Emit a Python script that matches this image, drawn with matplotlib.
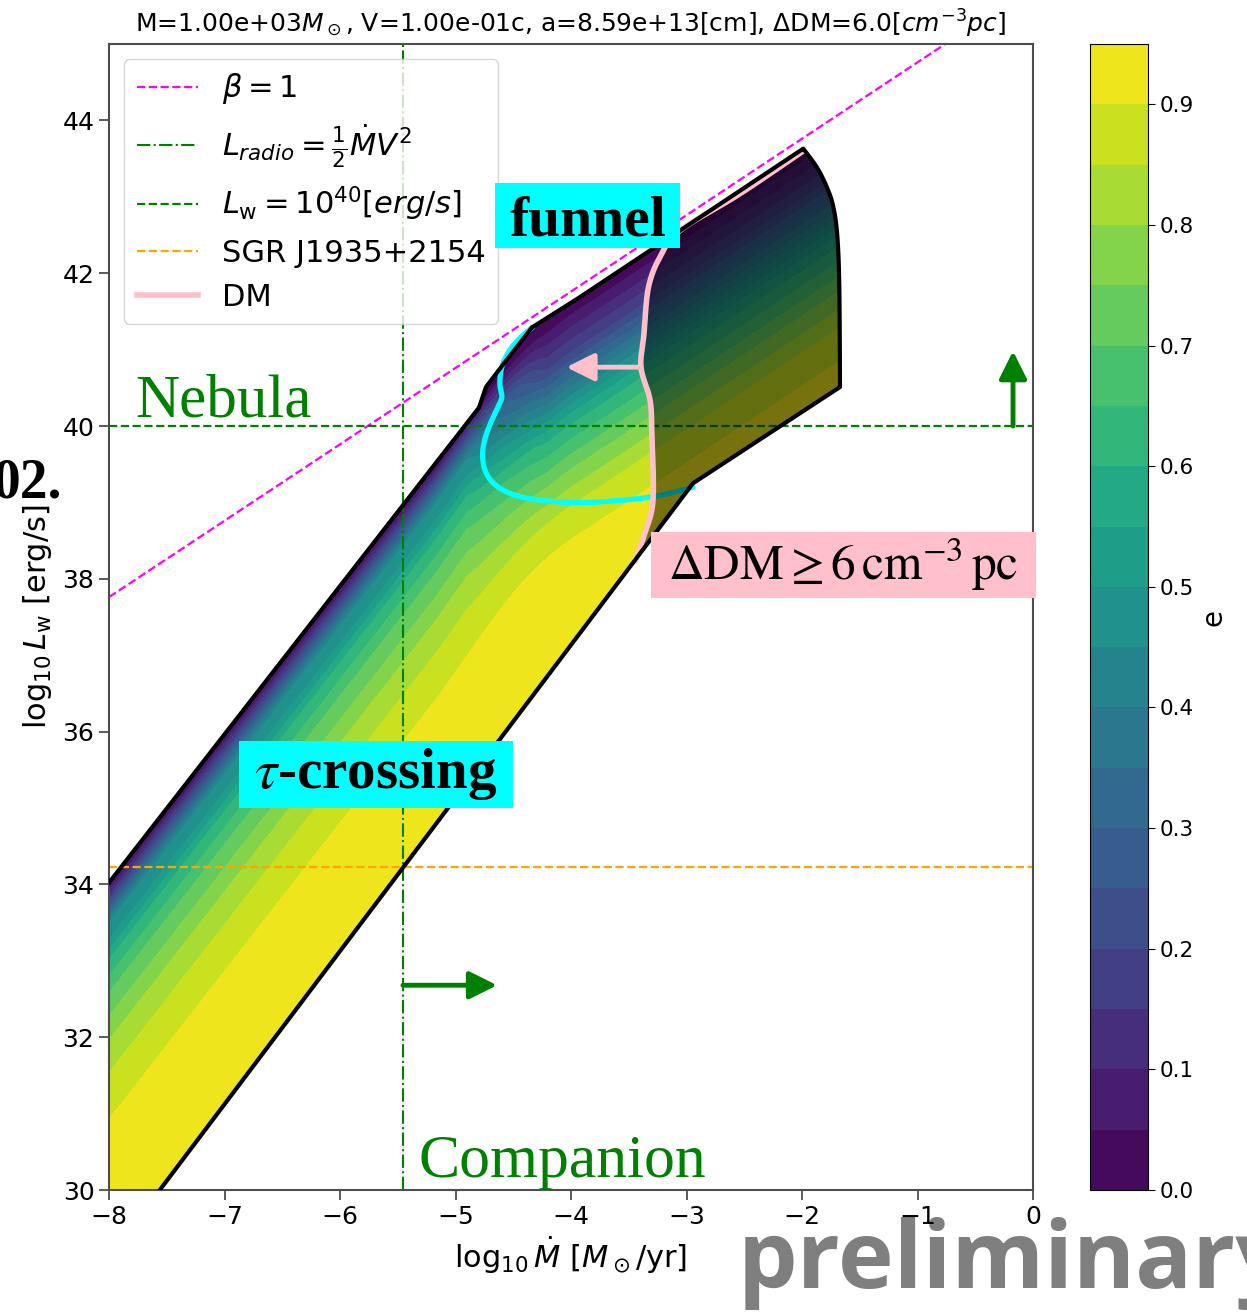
#Librerias
import numpy as np
import matplotlib
matplotlib.use('Agg')
import matplotlib.pyplot as plt
from matplotlib.patches import Polygon, Rectangle

##Bordes de la region (x = log10 Mdot, y = log10 Lw)
top_x = [-8.3, -4.797, -4.736, -4.56, -4.338, -3.94, -1.989]
top_y = [33.44, 40.24, 40.51, 40.86, 41.29, 41.67, 43.63]
right_x = [-1.989, -1.873, -1.786, -1.729, -1.694, -1.677, -1.671]
right_y = [43.63, 43.39, 43.13, 42.87, 42.48, 41.82, 40.51]
low_x = [-1.671, -2.944, -7.66]
low_y = [40.51, 39.25, 29.8]

##e segun la profundidad bajo el borde superior (parte baja y parte alta)
depth_low = [0.0, 0.52, 0.75, 1.01, 1.44, 2.06, 2.49, 3.10, 3.89]
e_low = [0.0, 0.45, 0.50, 0.60, 0.70, 0.80, 0.85, 0.90, 0.949]
depth_up = [0.0, 0.65, 1.10, 1.52, 2.18, 2.66, 3.10, 3.60]
e_up = [0.0, 0.20, 0.40, 0.58, 0.75, 0.85, 0.90, 0.949]

##Curva DM (de arriba hacia abajo)
dm_x = [-1.989, -2.537, -3.056, -3.23, -3.33, -3.368, -3.394, -3.316, -3.30, -3.29, -3.36, -3.446]
dm_y = [43.60, 43.04, 42.56, 42.21, 41.81, 41.21, 40.77, 40.34, 39.90, 39.03, 38.60, 38.24]

##Curva funnel
fun_x = [-4.333, -4.433, -4.532, -4.599, -4.616, -4.599, -4.632, -4.698, -4.748, -4.765,
         -4.732, -4.632, -4.433, -4.104, -3.771, -3.307, -2.944]
fun_y = [41.295, 41.164, 40.99, 40.772, 40.555, 40.38, 40.249, 40.031, 39.813, 39.594,
         39.377, 39.202, 39.071, 39.006, 39.006, 39.071, 39.198]

##Lineas de referencia
beta_x = [-8.0, 0.0]
beta_y = [37.76, 45.76]
mdot_companion = -5.455
l_nebula = 40.0
l_sgr = 34.23

xticks = np.arange(-8, 1, 1)
yticks = np.arange(30, 45, 2)
cticks = np.arange(0, 0.91, 0.1)
levels = np.linspace(0, 0.95, 20)


def suave(xs, ys, n=12):
    #Catmull-Rom para suavizar las curvas
    p = np.column_stack([xs, ys])
    p = np.vstack([p[0], p, p[-1]])
    t = np.linspace(0, 1, n, endpoint=False)[:, None]
    out = []
    for i in range(1, len(p) - 2):
        p0, p1, p2, p3 = p[i-1], p[i], p[i+1], p[i+2]
        out.append(0.5*(2*p1 + (-p0 + p2)*t + (2*p0 - 5*p1 + 4*p2 - p3)*t**2
                        + (-p0 + 3*p1 - 3*p2 + p3)*t**3))
    out.append(p[-2][None])
    out = np.vstack(out)
    return list(out[:, 0]), list(out[:, 1])


fig = plt.figure(figsize=(12.47, 13.13), dpi=100)
ax = fig.add_axes([109/1247, 123/1313, 924/1247, 1146/1313])
cax = fig.add_axes([1090/1247, 123/1313, 58/1247, 1146/1313])

#mapa de e
xg = np.linspace(-8, 0, 800)
yg = np.linspace(30, 45, 1000)
yr = np.interp(xg, top_x, top_y) + np.clip(xg - top_x[-1], 0, None)
k = 40
yr = np.convolve(np.pad(yr, k, mode='reflect', reflect_type='odd'),
                 np.ones(2*k + 1)/(2*k + 1), mode='same')[k:-k]
X, Y = np.meshgrid(xg, yg)
D = yr[None, :] - Y
w = np.clip((X + 4.9)/0.7, 0, 1)
E = (1 - w)*np.interp(D, depth_low, e_low) + w*np.interp(D, depth_up, e_up)
cs = ax.contourf(X, Y, E, levels=levels, cmap='viridis', zorder=1)

rx, ry = suave(right_x, right_y, 8)
edge_x = top_x + rx[1:] + low_x[1:]
edge_y = top_y + ry[1:] + low_y[1:]
region = Polygon(np.column_stack([edge_x + [-8.3], edge_y + [29.8]]), closed=True,
                 transform=ax.transData, fc='none', ec='none')
cs.set_clip_path(region)

#lineas
l1, = ax.plot(beta_x, beta_y, ls='--', color='magenta', lw=1.6, zorder=2)
l2 = ax.axvline(mdot_companion, color='green', ls='-.', lw=1.5, zorder=2)
l3 = ax.axhline(l_nebula, color='green', ls='--', lw=1.6, zorder=2)
l4 = ax.axhline(l_sgr, color='orange', ls='--', lw=1.6, zorder=2)
fx, fy = suave(fun_x, fun_y)
ax.plot(fx, fy, color='cyan', lw=3.8, zorder=3, solid_capstyle='round')

#zona oscurecida a la derecha de DM
mx, my = suave(dm_x, dm_y)
dark_x = mx + [-2.944] + rx[::-1]
dark_y = my + [39.25] + ry[::-1]
dark = Polygon(np.column_stack([dark_x, dark_y]), closed=True, fc='k', ec='none',
               alpha=0.5, zorder=4)
ax.add_patch(dark)
dark.set_clip_path(region)

l5, = ax.plot(mx, my, color='pink', lw=4, zorder=5)
ax.plot(edge_x, edge_y, color='k', lw=3, zorder=6, solid_joinstyle='round')

#flechas
arr = dict(arrowstyle='-|>', lw=3.5, mutation_scale=42, shrinkA=0, shrinkB=0)
ax.annotate('', xy=(-0.173, 40.98), xytext=(-0.173, l_nebula),
            arrowprops=dict(color='green', **arr), zorder=7)
ax.annotate('', xy=(-4.64, 32.68), xytext=(mdot_companion, 32.68),
            arrowprops=dict(color='green', **arr), zorder=7)
ax.annotate('', xy=(-4.04, 40.77), xytext=(-3.394, 40.77),
            arrowprops=dict(color='pink', **arr), zorder=7)

#etiquetas con caja
serif = 'Liberation Serif'
for (x0, x1, y0, y1, c) in [(-4.658, -3.056, 42.325, 43.175, 'cyan'),
                            (-6.874, -4.502, 34.998, 35.875, 'cyan'),
                            (-3.307, 0.026, 37.746, 38.609, 'pink')]:
    ax.add_patch(Rectangle((x0, y0), x1 - x0, y1 - y0, fc=c, ec='none', zorder=8,
                           clip_on=False))
ax.text(-3.857, 42.495, 'funnel', family=serif, fontweight='bold', fontsize=41.5,
        ha='center', va='baseline', zorder=9)
ax.text(-5.693, 35.26, r'$\tau$-crossing', family=serif, fontweight='bold', fontsize=41,
        math_fontfamily='stix', ha='center', va='baseline', zorder=9)
ax.text(-1.641, 37.98, r'$\Delta\mathrm{DM} \geq 6\,\mathrm{cm}^{-3}\,\mathrm{pc}$',
        fontsize=35.5, math_fontfamily='stix', ha='center', va='baseline', zorder=9)
ax.text(-7.775, 40.12, 'Nebula', family=serif, fontsize=44, color='green',
        ha='left', va='baseline', zorder=8)
ax.text(-5.319, 30.166, 'Companion', family=serif, fontsize=44.5, color='green',
        ha='left', va='baseline', zorder=8)

ax.set_xlim(-8, 0)
ax.set_ylim(30, 45)
ax.set_xticks(xticks)
ax.set_yticks(yticks)
ax.tick_params(labelsize=18, length=7, width=1.3, color='0.3')
for s in ax.spines.values():
    s.set_color('0.3')
    s.set_linewidth(1.5)
ax.set_xlabel(r'$\log_{10}\dot{M}$ [$M_\odot$/yr]', fontsize=22)
ax.set_ylabel(r'$\log_{10}L_{\rm w}$ [erg/s]', fontsize=22, labelpad=6)
ax.set_title(r'M=1.00e+03$M_\odot$, V=1.00e-01c, a=8.59e+13[cm], $\Delta$DM=6.0[$cm^{-3}pc$]',
             fontsize=18, pad=8)

ax.legend([l1, l2, l3, l4, l5],
          [r'$\beta=1$', r'$L_{radio}=\frac{1}{2}\dot{M}V^2$', r'$L_{\rm w}=10^{40}[erg/s]$',
           'SGR J1935+2154', 'DM'],
          loc='upper left', fontsize=22)

cb = fig.colorbar(cs, cax=cax, ticks=cticks)
cb.set_label('e', fontsize=20)
cax.tick_params(labelsize=15.5, length=5)

#textos sueltos
fig.text(62/1247, (1313-497)/1313, '02.', family=serif, fontweight='bold', fontsize=40,
         ha='right', va='baseline')
fig.text(738/1247, 25/1313, 'preliminary', family=['Open Sans', 'Noto Sans', 'DejaVu Sans'],
         fontweight='bold', fontsize=68, color='k', alpha=0.5, ha='left', va='baseline')

fig.savefig('out.png', dpi=100)
